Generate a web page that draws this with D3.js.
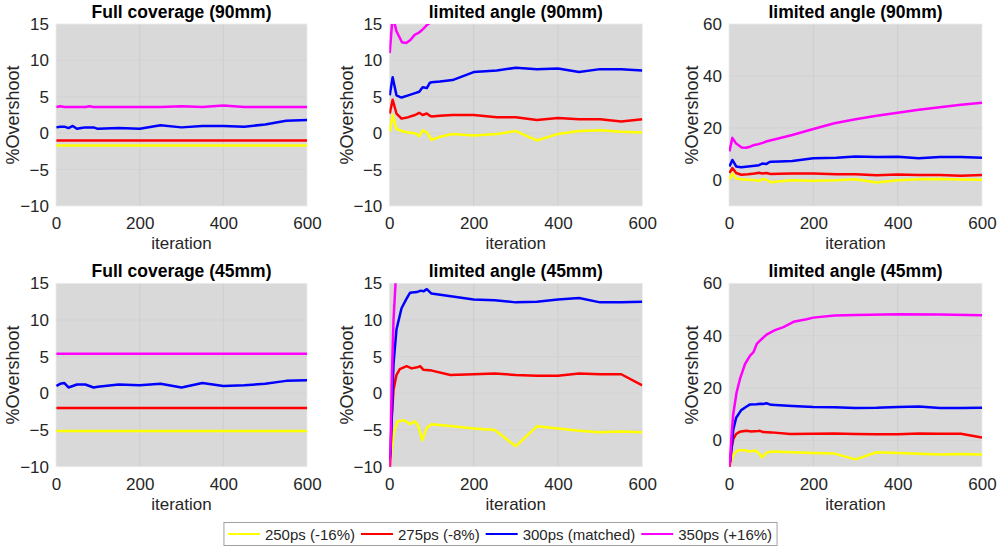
<!DOCTYPE html>
<html>
<head>
<meta charset="utf-8">
<script src="https://cdn.jsdelivr.net/npm/d3@7"></script>
<style>
  html, body { margin: 0; padding: 0; background: #ffffff; }
  svg { display: block; font-family: "Liberation Sans", Arial, Helvetica, sans-serif; }
</style>
</head>
<body>
<svg id="chart" width="999" height="551"></svg>
<script>
// ---------------- DATA ----------------
const seriesNames = ["250ps (-16%)", "275ps (-8%)", "300ps (matched)", "350ps (+16%)"];
const seriesColors = ["#ffff00", "#ff0000", "#0000ff", "#ff00ff"];
const xTicks = [0, 200, 400, 600];
const yTicksSmall = [-10, -5, 0, 5, 10, 15];
const yTicksLarge = [0, 20, 40, 60];
const panelTitles = ["Full coverage (90mm)", "limited angle (90mm)", "limited angle (90mm)",
                     "Full coverage (45mm)", "limited angle (45mm)", "limited angle (45mm)"];

// Full coverage (90mm)
const full90X   = [1, 10, 20, 30, 40, 50, 60, 70, 80, 90, 100, 150, 200, 250, 300, 350, 400, 450, 500, 550, 600];
const full90_250 = [-1.7, -1.7, -1.7, -1.7, -1.7, -1.7, -1.7, -1.7, -1.7, -1.7, -1.7, -1.7, -1.7, -1.7, -1.7, -1.7, -1.7, -1.7, -1.7, -1.7, -1.7];
const full90_275 = [-1.0, -1.0, -1.0, -1.0, -1.0, -1.0, -1.0, -1.0, -1.0, -1.0, -1.0, -1.0, -1.0, -1.0, -1.0, -1.0, -1.0, -1.0, -1.0, -1.0, -1.0];
const full90_300 = [0.8, 0.9, 0.9, 0.7, 1.0, 0.6, 0.7, 0.8, 0.8, 0.8, 0.6, 0.7, 0.6, 1.1, 0.8, 1.0, 1.0, 0.9, 1.2, 1.7, 1.8];
const full90_350 = [3.6, 3.7, 3.6, 3.6, 3.6, 3.6, 3.6, 3.6, 3.7, 3.6, 3.6, 3.6, 3.6, 3.6, 3.7, 3.6, 3.8, 3.6, 3.6, 3.6, 3.6];

// Full coverage (45mm)
const full45X   = [1, 10, 20, 30, 40, 50, 60, 70, 80, 90, 100, 150, 200, 250, 300, 350, 400, 450, 500, 550, 600];
const full45_250 = [-5.15, -5.15, -5.15, -5.15, -5.15, -5.15, -5.15, -5.15, -5.15, -5.15, -5.15, -5.15, -5.15, -5.15, -5.15, -5.15, -5.15, -5.15, -5.15, -5.15, -5.15];
const full45_275 = [-2.0, -2.0, -2.0, -2.0, -2.0, -2.0, -2.0, -2.0, -2.0, -2.0, -2.0, -2.0, -2.0, -2.0, -2.0, -2.0, -2.0, -2.0, -2.0, -2.0, -2.0];
const full45_300 = [1.0, 1.3, 1.4, 0.8, 1.0, 1.2, 1.2, 1.2, 1.0, 0.8, 0.9, 1.2, 1.1, 1.3, 0.8, 1.4, 1.0, 1.1, 1.3, 1.7, 1.8];
const full45_350 = [5.4, 5.4, 5.4, 5.4, 5.4, 5.4, 5.4, 5.4, 5.4, 5.4, 5.4, 5.4, 5.4, 5.4, 5.4, 5.4, 5.4, 5.4, 5.4, 5.4, 5.4];

// Limited angle (90mm)
const lim90X    = [1, 8, 17, 29, 45, 61, 71, 79, 89, 96, 100, 120, 150, 200, 255, 300, 350, 400, 450, 500, 550, 600];
const lim90_250 = [0.2, 2.5, 0.6, 0.3, 0.1, 0.0, -0.4, 0.4, 0.1, -0.5, -0.9, -0.5, -0.1, -0.3, -0.1, 0.3, -1.0, -0.1, 0.3, 0.4, 0.2, 0.1];
const lim90_275 = [2.7, 4.6, 2.7, 2.0, 2.2, 2.5, 2.8, 2.5, 2.7, 2.4, 2.3, 2.4, 2.5, 2.5, 2.2, 2.2, 1.8, 2.1, 1.9, 1.9, 1.6, 1.9];
const lim90_300 = [5.2, 7.7, 5.2, 4.9, 5.2, 5.5, 5.7, 6.3, 6.2, 6.9, 7.0, 7.1, 7.3, 8.4, 8.6, 9.0, 8.8, 8.9, 8.4, 8.8, 8.8, 8.6];
const lim90mX   = [1, 8, 17, 30, 40, 50, 60, 70, 80, 90, 100, 150, 200, 250, 300, 350, 400, 450, 500, 550, 600];
const lim90_350 = [11.0, 16.2, 14.0, 12.5, 12.4, 12.8, 13.5, 13.8, 14.3, 14.9, 15.3, 17.3, 19.6, 21.8, 23.4, 24.7, 25.9, 27.0, 28.0, 28.9, 29.7];

// Limited angle (45mm)
const lim45X_250 = [1, 5, 10, 15, 20, 30, 37, 49, 61, 69, 78, 89, 100, 150, 200, 250, 300, 350, 400, 450, 500, 550, 600];
const lim45_250  = [-10.5, -8, -5.5, -4.6, -3.8, -3.7, -3.7, -4.2, -3.8, -4.5, -6.4, -4.7, -4.2, -4.5, -4.8, -5.0, -7.2, -4.5, -4.8, -5.1, -5.3, -5.2, -5.3];
const lim45X_275 = [1, 5, 10, 17, 25, 29, 41, 53, 69, 73, 81, 101, 145, 200, 250, 300, 350, 400, 450, 500, 550, 600];
const lim45_275  = [-11, -4, 0.5, 2.5, 3.3, 3.4, 3.7, 3.4, 3.6, 3.7, 3.2, 3.1, 2.5, 2.6, 2.7, 2.5, 2.4, 2.4, 2.7, 2.6, 2.6, 1.1];
const lim45X_300 = [1, 3, 6, 10, 17, 29, 40, 49, 65, 75, 81, 89, 100, 150, 200, 250, 300, 350, 400, 450, 500, 550, 600];
const lim45_300  = [-9, -8, -3, 4, 8.7, 11.6, 12.8, 13.7, 13.8, 14.0, 13.9, 14.2, 13.6, 13.2, 12.8, 12.7, 12.4, 12.5, 12.8, 13.0, 12.4, 12.4, 12.5];
const lim45X_350 = [1, 3, 6, 10, 18, 26, 38, 50, 58, 66, 74, 89, 109, 129, 153, 184, 200, 250, 300, 400, 500, 600];
const lim45_350  = [-10, -7, 2, 10, 18.3, 23.5, 29.2, 32.4, 33.7, 36.9, 38.2, 40.4, 42.1, 43.3, 45.3, 46.3, 46.9, 47.7, 47.9, 48.2, 48.1, 47.8];

// ---------------- BUILD ----------------
const zip = (xs, ys) => xs.map((x, i) => [x, ys[i]]);
const groupFull90 = [zip(full90X, full90_250), zip(full90X, full90_275), zip(full90X, full90_300), zip(full90X, full90_350)];
const groupFull45 = [zip(full45X, full45_250), zip(full45X, full45_275), zip(full45X, full45_300), zip(full45X, full45_350)];
const groupLim90  = [zip(lim90X, lim90_250), zip(lim90X, lim90_275), zip(lim90X, lim90_300), zip(lim90mX, lim90_350)];
const groupLim45  = [zip(lim45X_250, lim45_250), zip(lim45X_275, lim45_275), zip(lim45X_300, lim45_300), zip(lim45X_350, lim45_350)];

const cols = [{x0: 56, x1: 307, ylab: 13}, {x0: 389.3, x1: 642.3, ylab: 346.5}, {x0: 729, x1: 982, ylab: 692}];
const rows = [{y0: 24, y1: 206}, {y0: 283.3, y1: 466.7}];

const panels = [
  {r: 0, c: 0, data: groupFull90, dom: [-10, 15], ticks: yTicksSmall},
  {r: 0, c: 1, data: groupLim90,  dom: [-10, 15], ticks: yTicksSmall},
  {r: 0, c: 2, data: groupLim90,  dom: [-10, 60], ticks: yTicksLarge},
  {r: 1, c: 0, data: groupFull45, dom: [-10, 15], ticks: yTicksSmall},
  {r: 1, c: 1, data: groupLim45,  dom: [-10, 15], ticks: yTicksSmall},
  {r: 1, c: 2, data: groupLim45,  dom: [-10, 60], ticks: yTicksLarge}
];

const svg = d3.select("#chart");
svg.append("rect").attr("width", 999).attr("height", 551).attr("fill", "#ffffff");
const defs = svg.append("defs");
const textColor = "#262626";
const fontFam = "\"Liberation Sans\", Arial, sans-serif";

panels.forEach((p, i) => {
  const col = cols[p.c], row = rows[p.r];
  const x = d3.scaleLinear().domain([0, 600]).range([col.x0, col.x1]);
  const y = d3.scaleLinear().domain(p.dom).range([row.y1, row.y0]);
  const g = svg.append("g");

  g.append("rect")
    .attr("x", col.x0).attr("y", row.y0)
    .attr("width", col.x1 - col.x0).attr("height", row.y1 - row.y0)
    .attr("fill", "#d9d9d9");

  // grid
  g.append("g").selectAll("line").data(xTicks.filter(t => t > 0 && t < 600)).join("line")
    .attr("x1", d => x(d)).attr("x2", d => x(d))
    .attr("y1", row.y0).attr("y2", row.y1)
    .attr("stroke", "#cbcbcb").attr("stroke-width", 0.8);
  g.append("g").selectAll("line").data(p.ticks.filter(t => t > p.dom[0] && t < p.dom[1])).join("line")
    .attr("x1", col.x0).attr("x2", col.x1)
    .attr("y1", d => y(d)).attr("y2", d => y(d))
    .attr("stroke", "#cfcfcf").attr("stroke-width", 0.6);

  // border
  g.append("rect")
    .attr("x", col.x0).attr("y", row.y0)
    .attr("width", col.x1 - col.x0).attr("height", row.y1 - row.y0)
    .attr("fill", "none").attr("stroke", "#ececec").attr("stroke-width", 0.8);

  // clip
  const cid = "clip" + i;
  defs.append("clipPath").attr("id", cid).append("rect")
    .attr("x", col.x0).attr("y", row.y0)
    .attr("width", col.x1 - col.x0).attr("height", row.y1 - row.y0);

  const line = d3.line().x(d => x(d[0])).y(d => y(d[1]));
  g.append("g").attr("clip-path", `url(#${cid})`)
    .selectAll("path").data(p.data).join("path")
    .attr("d", line)
    .attr("fill", "none")
    .attr("stroke", (d, k) => seriesColors[k])
    .attr("stroke-width", 2.5)
    .attr("stroke-linejoin", "round");

  // axes
  const ax = g.append("g").attr("transform", `translate(0,${row.y1})`)
    .call(d3.axisBottom(x).tickValues(xTicks).tickSize(0).tickPadding(11));
  ax.select(".domain").remove();
  ax.selectAll("text").attr("font-size", 17).attr("fill", textColor).attr("font-family", fontFam);

  const ay = g.append("g").attr("transform", `translate(${col.x0},0)`)
    .call(d3.axisLeft(y).tickValues(p.ticks).tickSize(0).tickPadding(7));
  ay.select(".domain").remove();
  ay.selectAll("text").attr("font-size", 17).attr("fill", textColor).attr("font-family", fontFam);

  // title
  g.append("text")
    .attr("x", (col.x0 + col.x1) / 2).attr("y", row.y0 - 6)
    .attr("text-anchor", "middle")
    .attr("font-size", 17.5).attr("font-weight", "bold").attr("fill", "#000")
    .text(panelTitles[i]);

  // x label
  g.append("text")
    .attr("x", (col.x0 + col.x1) / 2).attr("y", row.y1 + 43)
    .attr("text-anchor", "middle")
    .attr("font-size", 17).attr("fill", textColor)
    .text("iteration");

  // y label
  g.append("text")
    .attr("transform", `translate(${col.ylab},${(row.y0 + row.y1) / 2}) rotate(-90)`)
    .attr("text-anchor", "middle").attr("dominant-baseline", "central")
    .attr("font-size", 18).attr("fill", textColor)
    .text("%Overshoot");
});

// ---------------- LEGEND ----------------
const legend = svg.append("g");
const lgBox = legend.append("rect")
  .attr("fill", "#ffffff").attr("stroke", "#a0a0a0").attr("stroke-width", 1);
const lineLen = 32, gapLT = 5, gapEntry = 6, padL = 4, padR = 5;
let cx = 0;
const items = legend.append("g");
seriesNames.forEach((name, k) => {
  const it = items.append("g").attr("transform", `translate(${cx},0)`);
  it.append("line").attr("x1", 0).attr("x2", lineLen).attr("y1", 0).attr("y2", 0)
    .attr("stroke", seriesColors[k]).attr("stroke-width", 2.2);
  const t = it.append("text").attr("x", lineLen + gapLT).attr("y", 0)
    .attr("dominant-baseline", "central")
    .attr("font-size", 15).attr("fill", textColor).text(name);
  cx += lineLen + gapLT + t.node().getComputedTextLength() + gapEntry;
});
const totalW = cx - gapEntry + padL + padR;
const boxX = 500.5 - totalW / 2, boxY = 522.5, boxH = 23;
lgBox.attr("x", boxX).attr("y", boxY).attr("width", totalW).attr("height", boxH);
items.attr("transform", `translate(${boxX + padL},${boxY + boxH / 2})`);
</script>
</body>
</html>
